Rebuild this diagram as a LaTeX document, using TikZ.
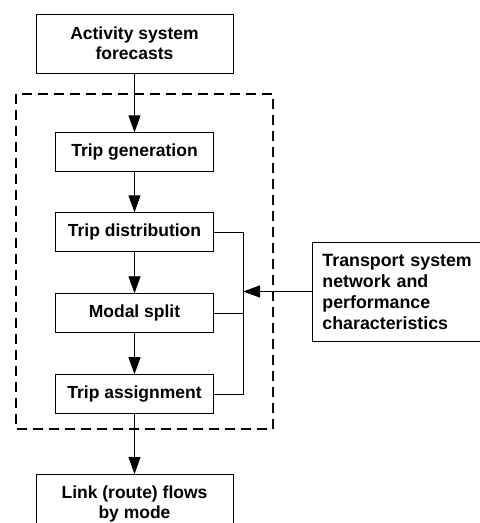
\documentclass[tikz,border=0pt]{standalone}
\usepackage{fontspec}
\setmainfont{Liberation Sans}
\usepackage{tikz}
\usetikzlibrary{positioning,arrows.meta}

\begin{document}
\begin{tikzpicture}[x=1pt,y=1pt]

    \edef\boxline{0.9pt}
    \tikzstyle{stage}=[draw,line width=\boxline,rectangle,minimum width=158pt,minimum height=39pt,inner sep=2pt,font=\fontsize{17.5}{20}\selectfont\bfseries]
    \tikzstyle{outer}=[stage,minimum width=197pt,minimum height=59pt,align=center]
    \tikzstyle{arr}=[line width=\boxline,-{Triangle[length=17pt,width=12pt]}]

    \useasboundingbox (0,0) rectangle (480,-523);
    \clip (0,0) rectangle (480,-523);

    \node [outer] (forecast) at (134.5,-43.5) {Activity system\\forecasts};
    \node [stage,below=59pt of forecast] (generation) {Trip generation};
    \node [stage,below=40pt of generation] (distribution) {Trip distribution};
    \node [stage,below=41pt of distribution] (modal) {Modal split};
    \node [stage,below=41pt of modal] (assignment) {Trip assignment};
    \node [outer,below=60pt of assignment] (flows) {Link (route) flows\\by mode};

    % supply side, cut off at the right edge
    \node [stage,anchor=west,align=left,text width=260pt,inner xsep=10pt,minimum height=99pt,font=\fontsize{17.8}{21}\selectfont\bfseries] (transport) at (312,-291.5) {Transport system\\network and\\performance\\characteristics};

    \draw [line width=1.3pt,dash pattern=on 10pt off 6pt] (16,-94) rectangle (273,-429);

    \draw [arr] (forecast) -- (generation);
    \draw [arr] (generation) -- (distribution);
    \draw [arr] (distribution) -- (modal);
    \draw [arr] (modal) -- (assignment);
    \draw [arr] (assignment) -- (flows);

    \coordinate (bus) at (243,0);
    \draw [line width=\boxline] (distribution.east) -- (distribution.east -| bus) -- (assignment.east -| bus) -- (assignment.east);
    \draw [line width=\boxline] (modal.east) -- (modal.east -| bus);
    \draw [arr] (transport.west) -- (transport.west -| bus);

\end{tikzpicture}
\end{document}
